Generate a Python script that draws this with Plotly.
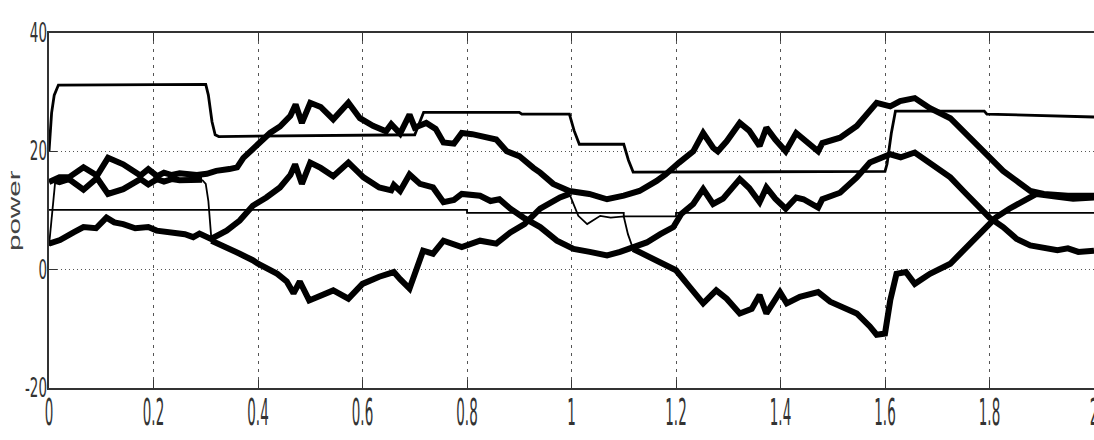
import plotly.graph_objects as go

# ---------------- data ----------------
x_tick_vals = [0, 0.2, 0.4, 0.6, 0.8, 1.0, 1.2, 1.4, 1.6, 1.8, 2.0]
x_tick_text = ["0", "0.2", "0.4", "0.6", "0.8", "1", "1.2", "1.4", "1.6", "1.8", "2"]
y_tick_vals = [40, 20, 0, -20]
y_tick_text = ["40", "20", "0", "-20"]

# stepped reference (medium line)
ref_t = [0, 0.005, 0.01, 0.018, 0.300, 0.305, 0.312, 0.318, 0.325, 0.700, 0.717, 0.90, 0.905,
         0.996, 1.005, 1.015, 1.100, 1.109, 1.118, 1.600, 1.604, 1.612, 1.620, 1.790, 1.795, 1.90, 2.0]
ref_p = [20.0, 26.5, 29.5, 31.2, 31.3, 29.5, 25.0, 22.8, 22.5, 22.8, 26.6, 26.6, 26.3,
         26.3, 23.5, 21.2, 21.2, 18.5, 16.5, 16.6, 17.9, 23.0, 26.8, 26.8, 26.3, 26.0, 25.8]

# nearly constant thin line
base_t = [0, 0.80, 0.80, 1.10, 1.10, 1.20, 1.20, 2.0]
base_p = [10.1, 10.1, 9.6, 9.6, 9.0, 9.0, 9.6, 9.6]

# upper thick trace
upper_t = [0, 0.02, 0.038, 0.066, 0.092, 0.113, 0.142, 0.175, 0.19, 0.207, 0.22, 0.235, 0.25, 0.283, 0.302,
           0.32, 0.345, 0.36, 0.372, 0.385, 0.404, 0.423, 0.442, 0.462, 0.472, 0.484, 0.50, 0.52, 0.544,
           0.573, 0.595, 0.62, 0.645, 0.655, 0.672, 0.69, 0.70, 0.722, 0.74, 0.755, 0.775, 0.79, 0.81,
           0.831, 0.856, 0.876, 0.90, 0.927, 0.94, 0.965, 0.996, 1.034, 1.068, 1.10, 1.13, 1.163, 1.18,
           1.206, 1.233, 1.252, 1.271, 1.28, 1.297, 1.322, 1.34, 1.36, 1.373, 1.39, 1.41, 1.43, 1.444,
           1.472, 1.48, 1.514, 1.546, 1.565, 1.584, 1.61, 1.629, 1.657, 1.686, 1.725, 1.75, 1.776, 1.80,
           1.826, 1.852, 1.878, 1.904, 1.95, 2.0]
upper_p = [14.8, 15.6, 15.6, 17.3, 15.9, 18.9, 17.8, 15.9, 17.0, 15.8, 16.4, 16.0, 16.3, 16.0, 16.2,
           16.7, 17.0, 17.3, 18.9, 20.0, 21.7, 23.1, 24.2, 26.0, 27.9, 24.8, 28.2, 27.5, 25.4,
           28.2, 25.6, 24.3, 23.4, 24.6, 23.0, 26.2, 24.0, 24.8, 23.8, 21.5, 21.3, 23.1, 22.9,
           22.6, 22.0, 20.0, 19.2, 17.2, 16.4, 14.5, 13.3, 12.8, 11.9, 12.5, 13.3, 15.0, 16.1,
           18.1, 20.0, 23.1, 20.6, 20.0, 21.7, 24.8, 23.5, 20.9, 24.0, 22.0, 20.0, 23.1, 22.0,
           20.0, 21.4, 22.3, 24.3, 26.2, 28.2, 27.6, 28.5, 29.0, 27.3, 25.6, 23.4, 20.9, 18.7,
           16.7, 15.0, 13.3, 12.8, 12.5, 12.5]

# middle thick trace
middle_t = [0, 0.021, 0.047, 0.066, 0.09, 0.11, 0.125, 0.142, 0.165, 0.19, 0.206, 0.225, 0.24, 0.26, 0.276,
            0.288, 0.31, 0.34, 0.365, 0.39, 0.416, 0.442, 0.462, 0.471, 0.484, 0.50, 0.52, 0.544, 0.573,
            0.602, 0.632, 0.655, 0.66, 0.672, 0.69, 0.71, 0.735, 0.755, 0.775, 0.79, 0.825, 0.845, 0.862,
            0.883, 0.908, 0.94, 0.972, 1.004, 1.035, 1.068, 1.093, 1.118, 1.144, 1.17, 1.195, 1.21, 1.233,
            1.252, 1.271, 1.29, 1.322, 1.34, 1.36, 1.373, 1.39, 1.41, 1.43, 1.444, 1.472, 1.48, 1.514,
            1.546, 1.571, 1.61, 1.63, 1.657, 1.686, 1.725, 1.75, 1.776, 1.80, 1.826, 1.852, 1.878, 1.904,
            1.93, 1.95, 1.97, 2.0]
middle_p = [4.4, 5.0, 6.3, 7.2, 7.0, 8.8, 8.0, 7.7, 7.0, 7.2, 6.6, 6.4, 6.1, 6.0, 5.5,
            6.1, 5.2, 6.6, 8.3, 10.8, 12.2, 13.9, 16.0, 17.8, 14.5, 18.1, 17.2, 15.8, 18.1,
            15.6, 13.9, 13.4, 14.3, 13.3, 16.1, 14.5, 13.9, 11.4, 11.8, 12.8, 12.5, 11.6, 11.9,
            10.3, 8.8, 7.2, 4.9, 3.5, 3.0, 2.4, 3.0, 3.8, 4.6, 6.0, 7.2, 9.4, 11.1,
            13.6, 11.1, 12.0, 15.3, 13.8, 11.4, 13.9, 12.0, 10.3, 12.2, 11.9, 10.5, 11.9, 13.0,
            15.6, 18.1, 19.5, 19.0, 19.8, 18.1, 15.6, 13.3, 10.8, 8.8, 7.2, 5.2, 4.1, 3.8,
            3.3, 3.6, 3.0, 3.2]

# lower-of-pair thick trace at the start
pair_t = [0.012, 0.02, 0.038, 0.066, 0.092, 0.113, 0.142, 0.175, 0.19, 0.207, 0.22, 0.235, 0.25, 0.283, 0.293]
pair_p = [15.0, 14.8, 15.3, 13.5, 15.5, 12.8, 13.6, 15.3, 14.4, 15.3, 14.9, 15.3, 15.1, 15.3, 15.2]

# thin transitions
ramp_t = [0, 0.012]
ramp_p = [4.0, 15.0]
drop_t = [0.293, 0.300, 0.305, 0.311]
drop_p = [15.2, 14.5, 11.6, 4.9]
dip_t = [0.996, 1.013, 1.03, 1.055, 1.075, 1.10, 1.108, 1.118]
dip_p = [12.8, 9.1, 7.7, 9.1, 8.8, 9.0, 6.0, 3.5]

# lower thick trace (two thick parts)
low1_t = [0.311, 0.34, 0.365, 0.39, 0.40, 0.437, 0.455, 0.468, 0.48, 0.498, 0.52, 0.544, 0.573, 0.60,
          0.632, 0.66, 0.672, 0.69, 0.716, 0.735, 0.755, 0.79, 0.825, 0.856, 0.883, 0.91, 0.94, 0.978, 0.996]
low1_p = [4.9, 3.8, 2.7, 1.6, 1.0, -0.7, -2.0, -4.0, -2.0, -5.2, -4.5, -3.5, -4.9, -2.4,
          -1.2, -0.4, -1.6, -3.2, 3.2, 2.7, 4.9, 3.8, 4.9, 4.4, 6.3, 7.7, 10.3, 12.2, 12.8]
low2_t = [1.118, 1.15, 1.18, 1.2, 1.226, 1.252, 1.277, 1.297, 1.322, 1.345, 1.36, 1.373, 1.399, 1.412,
          1.437, 1.472, 1.495, 1.52, 1.546, 1.571, 1.584, 1.60, 1.61, 1.622, 1.64, 1.657, 1.686, 1.725,
          1.762, 1.788, 1.812, 1.838, 1.864, 1.89, 1.93, 1.96, 2.0]
low2_p = [3.5, 2.1, 1.0, -0.1, -2.9, -5.7, -3.5, -4.9, -7.4, -6.6, -4.3, -7.4, -3.8, -5.7,
          -4.6, -3.8, -5.4, -6.3, -7.4, -9.6, -11.0, -10.8, -5.2, -0.7, -0.4, -2.4, -0.7, 1.0,
          4.4, 6.6, 8.8, 10.3, 11.6, 12.8, 12.3, 12.0, 12.2]

# ---------------- figure ----------------
BLACK = "#000000"
THICK = 6
THIN = 1.8

fig = go.Figure()

def add(t, p, w):
    fig.add_trace(go.Scatter(x=t, y=p, mode="lines", line=dict(color=BLACK, width=w),
                             showlegend=False, hoverinfo="skip", cliponaxis=True))

add(base_t, base_p, THIN)
add(ramp_t, ramp_p, THIN)
add(drop_t, drop_p, THIN)
add(dip_t, dip_p, THIN)
add(ref_t, ref_p, 2.8)
add(upper_t, upper_p, THICK)
add(middle_t, middle_p, THICK)
add(pair_t, pair_p, THICK)
add(low1_t, low1_p, THICK)
add(low2_t, low2_p, THICK)

tick_font = dict(family="Liberation Sans Narrow, DejaVu Sans Condensed, Arial Narrow, sans-serif",
                 size=15, color="#333333")

fig.update_layout(
    width=1094, height=440,
    margin=dict(l=49, r=0, t=33, b=52, autoexpand=False),
    paper_bgcolor="white", plot_bgcolor="white",
    showlegend=False,
)
fig.update_xaxes(
    range=[0, 2], tickvals=x_tick_vals, ticktext=x_tick_text, automargin=False,
    showgrid=True, gridcolor="#555555", gridwidth=1, griddash="3px,5px",
    showline=True, linecolor="#333333", linewidth=2, mirror="ticks",
    ticks="inside", ticklen=8, tickcolor="#333333", tickwidth=1,
    tickfont=tick_font, zeroline=False, ticklabelstandoff=10, ticklabeloverflow="allow",
)
fig.update_yaxes(
    range=[-20, 40], tickvals=y_tick_vals, ticktext=y_tick_text, automargin=False,
    showgrid=True, gridcolor="#555555", gridwidth=1, griddash="1px,3px",
    showline=True, linecolor="#333333", linewidth=2,
    ticks="inside", ticklen=8, tickcolor="#333333", tickwidth=1,
    tickfont=tick_font, zeroline=False, ticklabelstandoff=-3,
    title=dict(text="power", font=dict(family="Liberation Sans, Arial, sans-serif", size=16, color="#444444")),
)

# remove the page margin and stretch tick labels / title vertically like the reference
post = """
document.documentElement.style.margin = '0';
document.documentElement.style.padding = '0';
document.body.style.margin = '0';
document.body.style.padding = '0';
document.body.style.overflow = 'hidden';
var gd = document.getElementById('{plot_id}');
function stretchEl(el, s, dx){
  try {
    var cur = el.getAttribute('transform') || '';
    if (el.__mine !== undefined && el.__mine === cur) { return; }
    var r = el.getBoundingClientRect();
    var m = el.parentNode.getScreenCTM().inverse();
    var pt = gd.querySelector('svg').createSVGPoint();
    pt.x = r.left + r.width/2; pt.y = r.top + r.height/2;
    var c = pt.matrixTransform(m);
    var nt = 'translate(' + (c.x + dx) + ',' + c.y + ') scale(1,' + s + ') translate(' + (-c.x) + ',' + (-c.y) + ') ' + cur;
    el.setAttribute('transform', nt);
    el.__mine = el.getAttribute('transform');
  } catch (e) {}
}
function stretchAll(){
  gd.querySelectorAll('text').forEach(function(el){
    var t = (el.textContent || '').trim();
    var pcls = (el.parentNode && el.parentNode.getAttribute) ? (el.parentNode.getAttribute('class') || '') : '';
    if (t === 'power') { stretchEl(el, 1.85, 6); }
    else if (pcls.indexOf('xtick') >= 0) { stretchEl(el, 2.45, 0); }
    else if (pcls.indexOf('ytick') >= 0) { stretchEl(el, 1.75, 0); }
  });
}
stretchAll();
gd.on('plotly_afterplot', stretchAll);
requestAnimationFrame(stretchAll);
setTimeout(stretchAll, 50);
setTimeout(stretchAll, 300);
try {
  var mo = new MutationObserver(function(){ stretchAll(); });
  mo.observe(gd, {subtree: true, attributes: true, childList: true, attributeFilter: ['transform', 'x', 'y']});
} catch (e) {}
"""

fig.write_html("out.html", post_script=post, config={"displayModeBar": False, "responsive": False})
